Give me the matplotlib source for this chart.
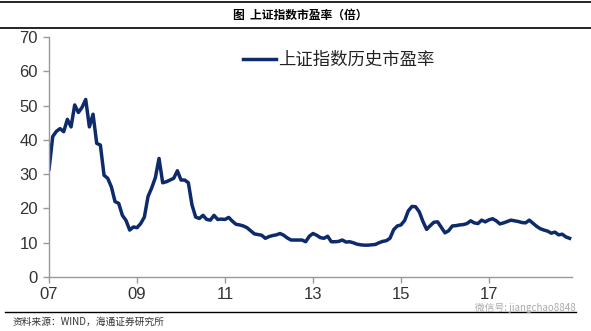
import matplotlib.pyplot as plt
from matplotlib.lines import Line2D

plt.rcParams['font.family'] = ['Liberation Sans', 'Noto Sans CJK SC', 'DejaVu Sans']

# 上证指数月度市盈率，2007-01 起
pe = [31.5, 41.0, 42.5, 43.3, 42.4, 46.0, 43.8, 50.2, 48.0, 49.5,
      51.8, 43.8, 47.5, 39.0, 38.5, 29.7, 28.8, 26.3, 22.0, 21.5,
      18.0, 16.5, 13.7, 14.6, 14.4, 15.6, 17.5, 23.5, 26.0, 29.0,
      34.6, 27.5, 27.8, 28.3, 28.8, 31.0, 28.3, 28.3, 27.5, 21.0,
      17.5, 17.1, 18.0, 16.8, 16.6, 18.0, 16.8, 16.9, 16.8, 17.4,
      16.3, 15.4, 15.2, 14.9, 14.4, 13.5, 12.6, 12.4, 12.2, 11.3,
      11.8, 12.1, 12.3, 12.7, 12.2, 11.4, 10.8, 10.8, 10.8, 10.8,
      10.3, 11.9, 12.7, 12.2, 11.5, 11.3, 11.9, 10.3, 10.3, 10.4,
      10.8, 10.2, 10.3, 10.0, 9.6, 9.4, 9.3, 9.3, 9.4, 9.5,
      10.0, 10.4, 10.6, 11.3, 13.8, 14.9, 15.2, 16.5, 19.3, 20.6,
      20.5, 19.0, 16.2, 13.9, 15.0, 16.0, 16.1, 14.5, 12.9, 13.5,
      14.9, 15.0, 15.2, 15.3, 15.6, 16.4, 15.8, 15.6, 16.6, 16.1,
      16.7, 17.0, 16.4, 15.5, 15.8, 16.2, 16.6, 16.4, 16.2, 15.9,
      15.8, 16.6, 15.7, 14.8, 14.1, 13.7, 13.4, 12.8, 13.1, 12.3,
      12.5, 11.7, 11.3]
x = [2007 + i / 12 for i in range(len(pe))]

year_ticks = [2007, 2009, 2011, 2013, 2015, 2017]
year_labels = ['07', '09', '11', '13', '15', '17']
y_ticks = [0, 10, 20, 30, 40, 50, 60, 70]

fig = plt.figure(figsize=(5.91, 3.31), dpi=100)
ax = fig.add_axes([0.083, 0.163, 0.885, 0.725])

ax.plot(x, pe, color='#0d2b6b', linewidth=2.5, label='上证指数历史市盈率')

ax.set_xlim(2007, 2018.89)
ax.set_ylim(0, 70)
ax.set_xticks(year_ticks)
ax.set_xticklabels(year_labels)
ax.set_yticks(y_ticks)

for s in ['top', 'right']:
    ax.spines[s].set_visible(False)
for s in ['left', 'bottom']:
    ax.spines[s].set_color('#999999')
    ax.spines[s].set_linewidth(1.0)
ax.tick_params(axis='both', colors='#999999', length=4, width=1.0,
               labelcolor='#333333', labelsize=12)
ax.tick_params(axis='x', pad=3)
ax.tick_params(axis='y', pad=4)

leg = ax.legend(loc='center left', bbox_to_anchor=(0.355, 0.905), frameon=False,
                handlelength=1.85, handletextpad=0.15, borderpad=0,
                prop={'family': 'Noto Sans CJK SC', 'size': 12.5})
for t in leg.get_texts():
    t.set_color('#222222')

# 标题和上下分隔线
fig.add_artist(Line2D([0, 1], [0.994, 0.994], color='black', linewidth=1.2))
fig.add_artist(Line2D([0, 1], [0.915, 0.915], color='black', linewidth=1.2))
fig.add_artist(Line2D([0.008, 0.975], [0.058, 0.058], color='black', linewidth=1.0))
fig.text(0.508, 0.955, '图  上证指数市盈率（倍）', ha='center', va='center',
         fontsize=8.5, fontweight='bold', family=['Noto Sans CJK SC'])
fig.text(0.022, 0.028, '资料来源：WIND，海通证券研究所', ha='left', va='center',
         fontsize=7, color='#333333', family=['Noto Sans CJK SC', 'DejaVu Sans'])
fig.text(0.975, 0.071, '微信号: jiangchao8848', ha='right', va='center',
         fontsize=7, color='#aaaaaa', family=['Noto Sans CJK SC', 'DejaVu Sans'])

fig.savefig('out.png', dpi=100)
